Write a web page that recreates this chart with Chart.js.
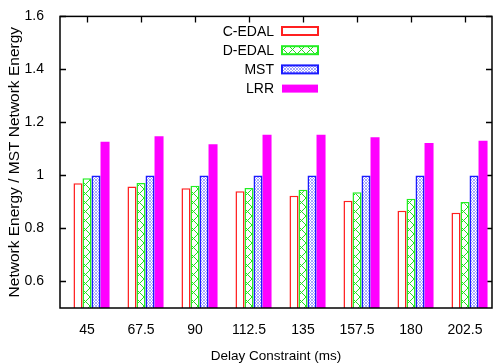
<!DOCTYPE html>
<html lang="en">
<head>
  <meta charset="UTF-8"/>
  <title>Network Energy vs Delay Constraint</title>
  <script src="https://cdn.jsdelivr.net/npm/chart.js"></script>
  <style>
    html, body { margin: 0; padding: 0; background: #fff; }
    #wrap { width: 495px; height: 364px; position: relative; }
  </style>
</head>
<body>
  <div id="wrap"><canvas id="chart"></canvas></div>
  <script>
    // data
    const delays = ['45', '67.5', '90', '112.5', '135', '157.5', '180', '202.5'];
    const cEdal = [0.971, 0.958, 0.952, 0.940, 0.923, 0.905, 0.867, 0.859];
    const dEdal = [0.989, 0.972, 0.961, 0.953, 0.946, 0.937, 0.912, 0.900];
    const mst   = [1.0, 1.0, 1.0, 1.0, 1.0, 1.0, 1.0, 1.0];
    const lrr   = [1.127, 1.148, 1.118, 1.154, 1.154, 1.144, 1.122, 1.131];
    const yTicks = [0.6, 0.8, 1, 1.2, 1.4, 1.6];

    const FONT = "'Liberation Sans', Arial, sans-serif";

    // hatch patterns like the gnuplot fills
    function crossPattern(size, color, width) {
      const c = document.createElement('canvas');
      c.width = size; c.height = size;
      const g = c.getContext('2d');
      g.fillStyle = '#fff';
      g.fillRect(0, 0, size, size);
      g.strokeStyle = color;
      g.lineWidth = width;
      g.beginPath();
      g.moveTo(0, 0); g.lineTo(size, size);
      g.moveTo(size, 0); g.lineTo(0, size);
      g.stroke();
      return g.createPattern(c, 'repeat');
    }
    const ctx = document.getElementById('chart').getContext('2d');
    const greenFill = crossPattern(9, '#22dd22', 1);
    const blueFill = crossPattern(3, '#8f8fff', 0.8);

    // gnuplot-style box with inward ticks on all sides
    const framePlugin = {
      id: 'frame',
      beforeDatasetsDraw(chart) {
        const { ctx, chartArea: a, scales } = chart;
        ctx.save();
        ctx.strokeStyle = '#000';
        ctx.lineWidth = 1.3;
        ctx.beginPath();
        yTicks.forEach(v => {
          const y = Math.round(scales.y.getPixelForValue(v)) + 0.5;
          ctx.moveTo(a.left, y); ctx.lineTo(a.left + 6, y);
          ctx.moveTo(a.right, y); ctx.lineTo(a.right - 6, y);
        });
        delays.forEach((d, i) => {
          const x = Math.round(scales.x.getPixelForValue(i)) + 0.5;
          ctx.moveTo(x, a.top); ctx.lineTo(x, a.top + 6);
          ctx.moveTo(x, a.bottom); ctx.lineTo(x, a.bottom - 6);
        });
        ctx.stroke();
        ctx.restore();
      },
      afterDatasetsDraw(chart) {
        const { ctx, chartArea: a } = chart;
        ctx.save();
        ctx.strokeStyle = '#000';
        ctx.lineWidth = 1.5;
        ctx.strokeRect(a.left, a.top, a.right - a.left, a.bottom - a.top);

        // legend: right aligned text, sample box on its right
        ctx.font = '14px ' + FONT;
        ctx.textAlign = 'right';
        ctx.textBaseline = 'middle';
        ctx.fillStyle = '#000';
        let y = 31;
        chart.data.datasets.forEach(ds => {
          if (!ds.label) return;
          ctx.fillText(ds.label, 274, y + 1);
          ctx.fillStyle = ds.backgroundColor;
          ctx.fillRect(282, y - 4, 36, 8);
          if (ds.borderWidth) {
            ctx.strokeStyle = ds.borderColor;
            ctx.lineWidth = 2;
            ctx.strokeRect(282, y - 4, 36, 8);
          }
          ctx.fillStyle = '#000';
          y += 19.2;
        });
        ctx.restore();
      }
    };

    const barStyle = { borderSkipped: false, barPercentage: 1, categoryPercentage: 0.835 };

    new Chart(ctx, {
      type: 'bar',
      data: {
        labels: delays,
        datasets: [
          // empty slot: gnuplot leaves the gap on the left of each cluster
          { label: '', data: delays.map(() => null), ...barStyle },
          { label: 'C-EDAL', data: cEdal, backgroundColor: '#ffffff', borderColor: '#ff2020', borderWidth: 1.5, ...barStyle },
          { label: 'D-EDAL', data: dEdal, backgroundColor: greenFill, borderColor: '#22ee22', borderWidth: 1.5, ...barStyle },
          { label: 'MST', data: mst, backgroundColor: blueFill, borderColor: '#1a1aff', borderWidth: 1.5, ...barStyle },
          { label: 'LRR', data: lrr, backgroundColor: '#ff00ff', borderColor: '#ff00ff', borderWidth: 0, ...barStyle }
        ]
      },
      options: {
        responsive: true,
        maintainAspectRatio: false,
        animation: false,
        layout: { padding: { top: 14, right: 3, left: 0, bottom: 0 } },
        plugins: {
          legend: { display: false },
          tooltip: { enabled: false }
        },
        scales: {
          x: {
            grid: { display: false },
            border: { display: false },
            ticks: { color: '#000', font: { family: FONT, size: 14 }, padding: 6, maxRotation: 0 },
            title: { display: true, text: 'Delay Constraint (ms)', color: '#000', font: { family: FONT, size: 13.5 }, padding: { top: 8, bottom: 0 } },
            afterFit: s => { s.height = 56; }
          },
          y: {
            min: 0.5,
            max: 1.6,
            grid: { display: false },
            border: { display: false },
            afterBuildTicks: s => { s.ticks = yTicks.map(v => ({ value: v })); },
            ticks: { color: '#000', font: { family: FONT, size: 14 }, padding: 8, callback: v => String(v) },
            title: { display: true, text: 'Network Energy / MST Network Energy', color: '#000', font: { family: FONT, size: 15.5 }, padding: { top: 5, bottom: 0 } },
            afterFit: s => { s.width = 60; }
          }
        }
      },
      plugins: [framePlugin]
    });
  </script>
</body>
</html>
